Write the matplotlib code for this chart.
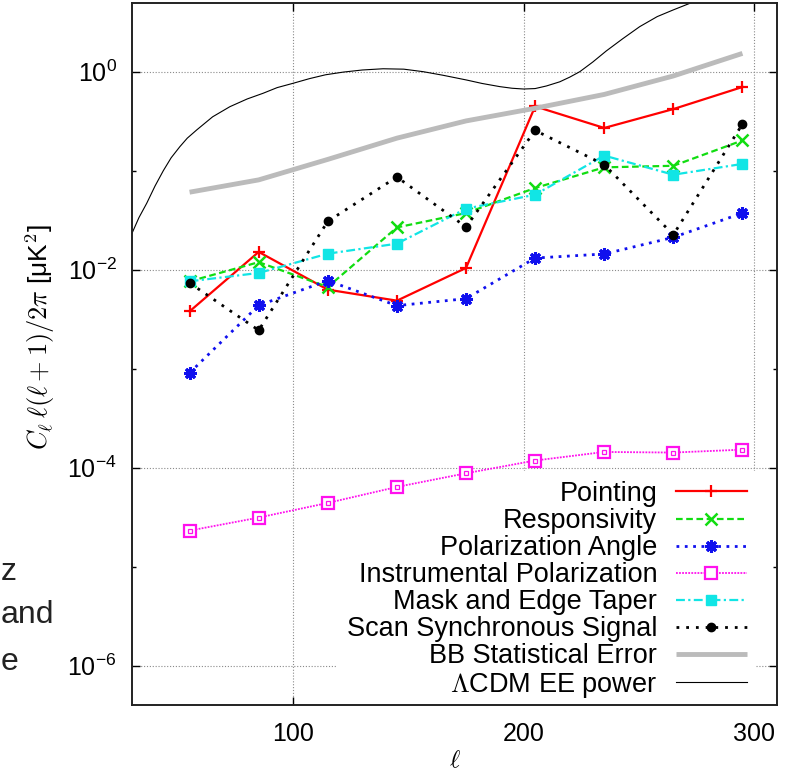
import numpy as np
import matplotlib
matplotlib.use("Agg")
import matplotlib.pyplot as plt
from matplotlib.ticker import FixedLocator, NullFormatter

plt.rcParams['font.family'] = ['Liberation Sans', 'DejaVu Sans']
plt.rcParams['mathtext.fontset'] = 'cm'

# ---------------- data ----------------
ell = [55, 85, 115, 145, 175, 205, 235, 265, 295]
pointing = [3.79e-3, 1.51e-2, 6.28e-3, 4.86e-3, 1.04e-2, 0.446, 0.27, 0.419, 0.70]
responsivity = [7.62e-3, 1.19e-2, 6.68e-3, 2.67e-2, 3.73e-2, 6.68e-2, 0.108, 0.112, 0.202]
pol_angle = [9.06e-4, 4.36e-3, 7.74e-3, 4.33e-3, 5.09e-3, 1.31e-2, 1.44e-2, 2.12e-2, 3.73e-2]
instr_pol = [2.31e-5, 3.13e-5, 4.40e-5, 6.38e-5, 8.77e-5, 1.18e-4, 1.44e-4, 1.42e-4, 1.52e-4]
mask_taper = [7.62e-3, 9.26e-3, 1.45e-2, 1.83e-2, 4.13e-2, 5.72e-2, 0.142, 0.091, 0.117]
scan_sync = [7.34e-3, 2.44e-3, 3.08e-2, 8.63e-2, 2.70e-2, 0.255, 0.115, 2.25e-2, 0.296]
bb_stat = [0.0606, 0.0807, 0.130, 0.213, 0.318, 0.427, 0.589, 0.905, 1.53]

lcdm_ell = [30, 33, 36.4, 40, 43.6, 47, 50.8, 54, 58.1, 65, 72.5, 80, 86.9, 93, 100,
            107, 114, 121.7, 130, 139, 148, 156.4, 165, 175.2, 182, 189.7, 195, 200,
            205, 209.9, 215.7, 220, 224.4, 230, 235.9, 243, 250.4, 258, 264.9, 272.8,
            285, 300, 312]
lcdm_ee = [0.0233, 0.0335, 0.0469, 0.070, 0.100, 0.135, 0.175, 0.213, 0.258, 0.350,
           0.443, 0.530, 0.605, 0.690, 0.764, 0.850, 0.930, 0.99, 1.04, 1.07, 1.06,
           1.00, 0.92, 0.824, 0.76, 0.706, 0.68, 0.668, 0.675, 0.717, 0.79, 0.88,
           1.0, 1.25, 1.62, 2.15, 2.85, 3.6, 4.2, 4.97, 7.5, 12.0, 16.0]

labels = ["Pointing", "Responsivity", "Polarization Angle", "Instrumental Polarization",
          "Mask and Edge Taper", "Scan Synchronous Signal", "BB Statistical Error",
          r"$\Lambda$CDM EE power"]

xticks = [100, 200, 300]
xticklabels = ["100", "200", "300"]
ymajor = [1e-6, 1e-4, 1e-2, 1e0]
ymajor_labels = [r"$\mathregular{10^{-6}}$", r"$\mathregular{10^{-4}}$",
                 r"$\mathregular{10^{-2}}$", r"$\mathregular{10^{0}}$"]
yminor = [1e-7, 1e-5, 1e-3, 1e-1]

side_fragments = ["z", "and", "e"]

# ---------------- figure ----------------
W, H = 789, 773
fig = plt.figure(figsize=(W / 100, H / 100), dpi=100)
ax = fig.add_axes([132 / W, 1 - 705 / H, (777 - 132) / W, (705 - 3) / H])

ax.set_yscale('log')
ax.set_xlim(30, 310)
ax.set_ylim(4.0e-7, 4.94)

z = 3
h1, = ax.plot(ell, pointing, color='#ff0000', lw=1.6, ls='-', marker='+', ms=9, mew=1.6, zorder=z)
h2, = ax.plot(ell, responsivity, color='#11dd11', lw=1.6, ls=(0, (3, 1.6)), marker='x', ms=8,
              mew=1.8, zorder=z)
h3, = ax.plot(ell, pol_angle, color='#1010ee', lw=2.0, ls=(0, (1, 2)), marker=(8, 2, 0), ms=9,
              mew=2.2, zorder=z)
h4, = ax.plot(ell, instr_pol, color='#ff11ee', lw=1.3, ls=(0, (1, 0.7)), marker='s', ms=8,
              mfc='white', mew=1.6, zorder=z)
ax.plot(ell, instr_pol, ls='none', marker='s', ms=2.5, mfc='none', mec='#ff11ee', mew=0.9, zorder=z)
h5, = ax.plot(ell, mask_taper, color='#11e5e5', lw=1.6, ls=(0, (4, 1.5, 1, 1.5)), marker='s',
              ms=7.5, zorder=z)
h6, = ax.plot(ell, scan_sync, color='black', lw=2.0, ls=(0, (1, 2.5)), marker='o', ms=6, zorder=z)
h7, = ax.plot(ell, bb_stat, color='#bbbbbb', lw=3.5, solid_capstyle='butt', zorder=z)
h8, = ax.plot(lcdm_ell, lcdm_ee, color='black', lw=0.8, zorder=z)

# ticks
ax.set_xticks(xticks)
ax.set_xticklabels(xticklabels)
ax.yaxis.set_major_locator(FixedLocator(ymajor))
ax.set_yticklabels(ymajor_labels)
ax.yaxis.set_minor_locator(FixedLocator(yminor))
ax.yaxis.set_minor_formatter(NullFormatter())
ax.tick_params(which='both', direction='in', top=True, right=True, width=1.0)
ax.tick_params(which='major', length=5.5, labelsize=18, pad=11)
ax.tick_params(which='minor', length=3)
ax.tick_params(axis='x', which='major', pad=12)

ax.set_axisbelow(True)
ax.grid(True, which='major', color='#8a8a8a', ls=(0, (1, 1.6)), lw=0.8)
for s in ax.spines.values():
    s.set_linewidth(1.4)
    s.set_color('#222222')
    s.set_zorder(4)

ax.set_xlabel(r"$\ell$", fontsize=18, labelpad=2)
fig.text(40 / W, 1 - 337 / H, r"$C_\ell\,\ell(\ell+1)/2\pi$ [μK$^2$]", rotation=90,
         ha='center', va='center', fontsize=19)

leg = ax.legend([h1, h2, h3, h4, h5, h6, h7, h8], labels, loc='lower right',
                bbox_to_anchor=((756 - 132) / 645, (705 - 709) / 702),
                markerfirst=False, fontsize=19.5, frameon=True, fancybox=False,
                framealpha=1.0, edgecolor='none', facecolor='white',
                handlelength=2.6, handletextpad=0.7, labelspacing=0.04,
                borderpad=0.35, borderaxespad=0.0)
leg.set_zorder(2.5)

# fragments of neighbouring text at the left edge
frag_pos = [(0.5, 580), (0.5, 623), (0.5, 670)]
for s, (xl, yb) in zip(side_fragments, frag_pos):
    fig.text(xl / W, 1 - yb / H, s, ha='left', va='baseline', fontsize=23,
             color='#222222', family=['Liberation Sans', 'DejaVu Sans'])

fig.savefig("out.png", dpi=100)
